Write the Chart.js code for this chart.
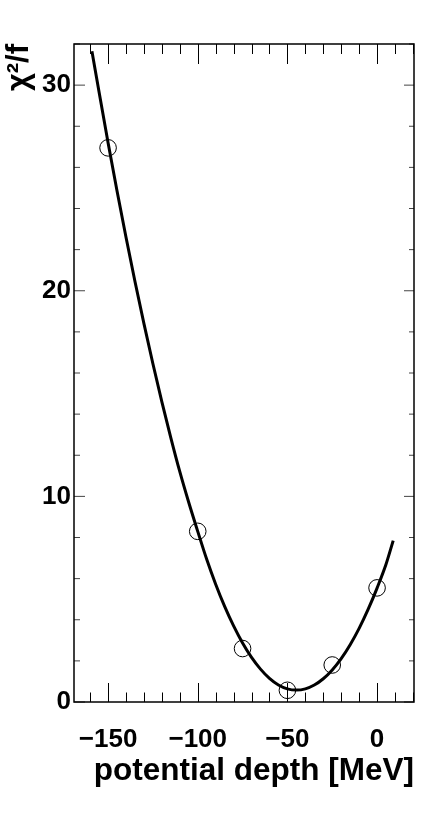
<!DOCTYPE html>
<html>
<head>
<meta charset="utf-8">
<script src="https://cdn.jsdelivr.net/npm/chart.js@4/dist/chart.umd.min.js"></script>
<style>
  html, body { margin: 0; padding: 0; background: #fff; }
  canvas { display: block; }
</style>
</head>
<body>
<canvas id="c" width="424" height="824"></canvas>
<script>
// ---- data ----
const pointDepths = [-150, -100, -75, -50, -25, 0];
const pointChi2   = [26.95, 8.3, 2.6, 0.57, 1.8, 5.55];

const curveDepths = [-159, -155, -150, -145, -140, -135, -130, -125, -120, -115, -110, -105, -100, -95, -90, -85, -80, -75, -70, -65, -60, -55, -50, -45, -40, -35, -30, -25, -20, -15, -10, -5, 0, 5, 9];
const curveChi2   = [31.65, 29.65, 27.2, 24.85, 22.6, 20.45, 18.4, 16.45, 14.6, 12.85, 11.2, 9.7, 8.3, 6.94, 5.73, 4.65, 3.7, 2.87, 2.17, 1.6, 1.15, 0.83, 0.64, 0.58, 0.64, 0.825, 1.13, 1.56, 2.11, 2.785, 3.58, 4.5, 5.54, 6.7, 7.85];

const xTickLabels = [-150, -100, -50, 0];
const yTickLabels = [0, 10, 20, 30];
const xMinorTicks = [-160, -150, -140, -130, -120, -110, -100, -90, -80, -70, -60, -50, -40, -30, -20, -10, 0, 10, 20];
const yMinorTicks = [0, 2, 4, 6, 8, 10, 12, 14, 16, 18, 20, 22, 24, 26, 28, 30, 32];

const xTitle = 'potential depth [MeV]';
const yTitle = 'χ²/f';

// ---- build datasets ----
const curveData = curveDepths.map((x, i) => ({ x: x, y: curveChi2[i] }));
const pointData = pointDepths.map((x, i) => ({ x: x, y: pointChi2[i] }));

const fmt = v => (v < 0 ? '\u2212' + Math.abs(v) : String(v));

const frameTicks = {
  id: 'frameTicks',
  afterDatasetsDraw(chart) {
    const ctx = chart.ctx;
    const xs = chart.scales.x, ys = chart.scales.y;
    const a = chart.chartArea;
    ctx.save();
    ctx.strokeStyle = '#000';
    ctx.lineWidth = 1;
    ctx.beginPath();
    xMinorTicks.forEach(v => {
      const px = Math.round(xs.getPixelForValue(v)) + 0.5;
      if (px < a.left || px > a.right) return;
      const major = xTickLabels.includes(v);
      const lb = major ? 19 : 9.5;
      const lt = major ? 20 : 10;
      ctx.moveTo(px, a.bottom); ctx.lineTo(px, a.bottom - lb);
      ctx.moveTo(px, a.top); ctx.lineTo(px, a.top + lt);
    });
    ctx.stroke();
    ctx.strokeStyle = '#444';
    ctx.beginPath();
    yMinorTicks.forEach(v => {
      const py = ys.getPixelForValue(v);
      if (py < a.top || py > a.bottom) return;
      const major = yTickLabels.includes(v);
      const ll = major ? 11 : 6;
      const lr = major ? 10 : 5;
      ctx.moveTo(a.left, py); ctx.lineTo(a.left + ll, py);
      ctx.moveTo(a.right, py); ctx.lineTo(a.right - lr, py);
    });
    ctx.stroke();
    ctx.strokeStyle = '#000';
    ctx.lineWidth = 1.5;
    ctx.strokeRect(a.left, a.top, a.right - a.left, a.bottom - a.top);
    ctx.restore();
  }
};

new Chart(document.getElementById('c'), {
  type: 'line',
  data: {
    datasets: [
      {
        label: 'fit',
        data: curveData,
        borderColor: '#000',
        borderWidth: 3,
        pointRadius: 0,
        fill: false,
        cubicInterpolationMode: 'monotone',
        order: 2
      },
      {
        label: 'points',
        type: 'scatter',
        data: pointData,
        showLine: false,
        pointStyle: 'circle',
        pointRadius: 8.3,
        borderWidth: 1,
        borderColor: '#000',
        backgroundColor: 'rgba(0,0,0,0)',
        order: 1
      }
    ]
  },
  options: {
    responsive: false,
    animation: false,
    events: [],
    layout: { padding: { top: 44, right: 10, left: 0, bottom: 0 } },
    plugins: { legend: { display: false }, tooltip: { enabled: false } },
    scales: {
      x: {
        type: 'linear',
        position: 'bottom',
        min: -169,
        max: 20.6,
        grid: { display: false, drawTicks: false },
        border: { display: false },
        ticks: {
          stepSize: 50,
          includeBounds: false,
          autoSkip: false,
          maxRotation: 0,
          padding: 22,
          color: '#000',
          font: { family: '"Liberation Sans", Arial, Helvetica, sans-serif', size: 26, weight: 'bold' },
          callback: v => fmt(v)
        },
        title: {
          display: true,
          text: xTitle,
          align: 'end',
          color: '#000',
          padding: { top: 0, bottom: 34 },
          font: { family: '"Liberation Sans", Arial, Helvetica, sans-serif', size: 31.5, weight: 'bold' }
        },
        afterFit: s => { s.height = 122; }
      },
      y: {
        type: 'linear',
        position: 'left',
        min: 0,
        max: 32,
        grid: { display: false, drawTicks: false },
        border: { display: false },
        ticks: {
          stepSize: 10,
          includeBounds: false,
          autoSkip: false,
          padding: 3,
          color: '#000',
          font: { family: '"Liberation Sans", Arial, Helvetica, sans-serif', size: 26, weight: 'bold' },
          callback: v => fmt(v)
        },
        title: {
          display: true,
          text: yTitle,
          align: 'end',
          color: '#000',
          padding: { top: 1, bottom: 0 },
          font: { family: '"Liberation Sans", Arial, Helvetica, sans-serif', size: 31, weight: 'bold' }
        },
        afterFit: s => { s.width = 74; }
      }
    }
  },
  plugins: [frameTicks]
});
</script>
</body>
</html>
